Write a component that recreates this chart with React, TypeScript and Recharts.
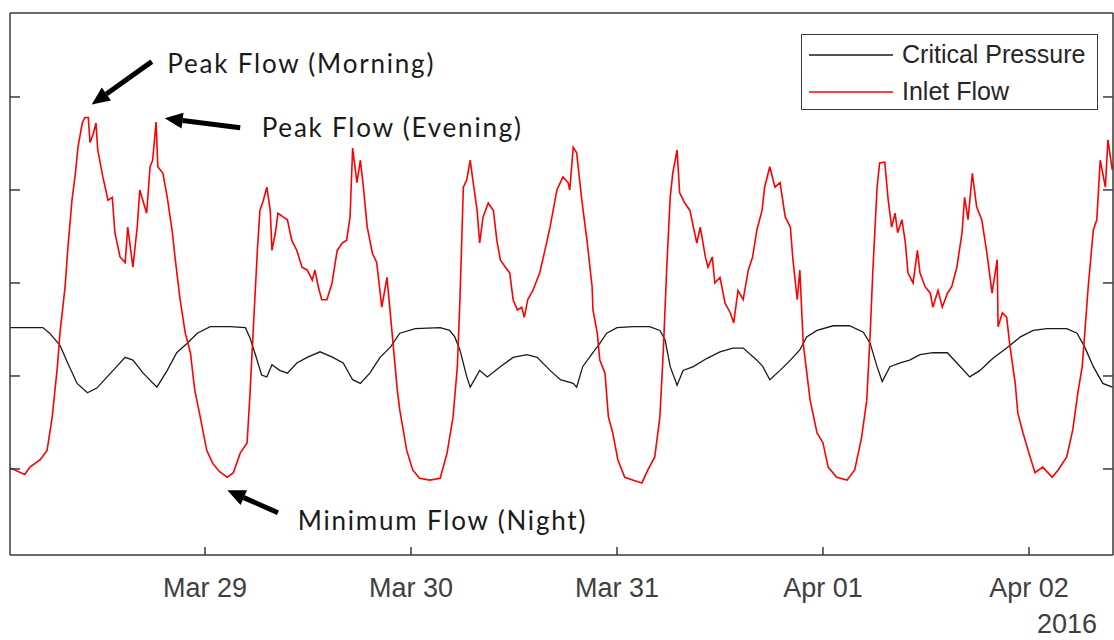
import { LineChart, Line, XAxis, YAxis, Legend, ReferenceLine, ReferenceDot } from "recharts"

// hours counted from 2016-03-29 00:00
const dayTicks = [0, 24, 48, 72, 96]
const dayLabels = ["Mar 29", "Mar 30", "Mar 31", "Apr 01", "Apr 02"]
const levelTicks = [1, 2, 3, 4, 5]

const flowHours = [
  -22.7, -21.0, -20.4, -19.2, -18.4, -17.8, -17.2, -16.9, -16.3, -16.0, -15.5, -15.1, -14.8, -14.3, -14.0, -13.6,
  -13.4, -13.0, -12.7, -12.5, -11.9, -11.3, -10.8, -10.5, -9.9, -9.3, -9.0, -8.4, -7.9, -7.6, -6.8, -6.4, -6.1,
  -5.7, -5.5, -4.9, -4.4, -3.8, -3.5, -2.9, -2.3, -1.7, -1.2, -0.6, 0.2, 0.9, 1.7, 2.6, 3.3, 4.1, 4.9, 5.2, 5.6,
  6.1, 6.4, 6.8, 7.2, 7.6, 7.8, 8.2, 8.5, 9.1, 9.6, 10.1, 10.7, 11.3, 11.9, 12.5, 12.8, 13.2, 13.6, 14.2, 14.8,
  15.4, 16.0, 16.5, 16.9, 17.2, 17.7, 18.1, 18.4, 18.9, 19.5, 20.0, 20.6, 21.2, 21.8, 22.4, 22.7, 23.5, 24.2,
  25.0, 26.2, 27.4, 28.2, 28.9, 29.4, 29.7, 30.1, 30.5, 30.9, 31.2, 31.7, 32.0, 32.4, 33.0, 33.6, 34.0, 34.4,
  35.0, 35.5, 35.9, 36.4, 36.9, 37.2, 37.6, 38.2, 39.0, 39.6, 40.2, 41.0, 41.7, 42.3, 42.5, 42.9, 43.3, 43.9,
  44.5, 45.1, 45.2, 45.7, 46.0, 46.6, 47.0, 47.5, 48.1, 48.9, 49.9, 50.9, 51.6, 52.4, 53.0, 53.4, 53.8, 54.2,
  54.5, 55.0, 55.3, 55.9, 56.5, 56.9, 57.3, 57.7, 58.3, 58.6, 59.1, 59.4, 60.0, 60.6, 61.2, 61.6, 62.1, 62.7,
  63.3, 63.8, 64.3, 64.9, 65.2, 65.8, 66.4, 67.0, 67.6, 68.2, 68.5, 69.0, 69.3, 69.7, 70.5, 71.3, 72.0, 72.6,
  73.6, 74.8, 75.7, 76.5, 77.1, 77.5, 77.8, 78.3, 78.6, 79.2, 79.6, 80.0, 80.4, 80.7, 81.2, 81.6, 81.9, 82.5,
  83.0, 83.3, 83.9, 84.5, 84.8, 85.4, 85.9, 86.5, 87.0, 87.6, 88.2, 88.5, 88.9, 89.4, 89.9, 90.5, 91.1, 91.7,
  92.3, 92.4, 92.9, 93.4, 93.8, 94.4, 94.7, 95.3, 95.9, 96.7, 97.6, 98.7, 99.4, 100.4, 101.1, 101.7, 102.2,
  102.5, 102.9, 103.5, 103.9, 104.3, 104.9, 105.2, 105.7, 106.1,
]
const flowValues = [
  1.01, 0.94, 1.02, 1.1, 1.2, 1.56, 2.1, 2.46, 2.96, 3.35, 3.89, 4.18, 4.46, 4.72, 4.78, 4.78,
  4.51, 4.61, 4.72, 4.43, 4.14, 3.89, 3.92, 3.54, 3.28, 3.22, 3.6, 3.17, 3.6, 4.0, 3.75, 4.25, 4.32,
  4.73, 4.25, 4.18, 3.92, 3.54, 3.28, 2.82, 2.46, 2.25, 1.85, 1.58, 1.2, 1.06, 0.97, 0.91, 0.96, 1.17, 1.28, 1.74, 2.46,
  3.35, 3.78, 3.89, 4.03, 3.78, 3.35, 3.54, 3.75, 3.71, 3.68, 3.46, 3.35, 3.17, 3.14, 3.03, 3.14, 2.96, 2.82, 2.82, 3.0,
  3.35, 3.43, 3.46, 3.71, 4.45, 4.08, 4.32, 4.08, 3.6, 3.32, 3.22, 2.74, 3.06, 2.46, 1.85, 1.63, 1.2, 0.99,
  0.9, 0.88, 0.9, 1.17, 1.56, 2.1, 2.82, 4.03, 4.11, 4.32, 4.11, 3.78, 3.43, 3.71, 3.86, 3.78, 3.46, 3.25,
  3.17, 3.11, 2.82, 2.71, 2.74, 2.63, 2.82, 2.92, 3.11, 3.35, 3.6, 4.0, 4.14, 4.08, 4.0, 4.46, 4.4, 3.89,
  3.46, 2.96, 2.71, 2.46, 2.17, 2.03, 1.56, 1.39, 1.1, 0.91, 0.88, 0.85, 0.99, 1.13, 1.56, 2.28, 3.17, 3.92,
  4.18, 4.43, 3.97, 3.86, 3.78, 3.6, 3.43, 3.6, 3.28, 3.17, 3.28, 3.0, 3.06, 2.78, 2.68, 2.57, 2.92, 2.82,
  3.14, 3.28, 3.57, 3.78, 4.03, 4.25, 4.03, 4.08, 3.71, 3.6, 3.25, 2.82, 3.14, 2.35, 1.74, 1.39, 1.28, 1.02,
  0.91, 0.88, 0.99, 1.34, 1.74, 2.46, 3.11, 4.03, 4.29, 4.3, 3.89, 3.6, 3.75, 3.54, 3.68, 3.43, 3.11, 3.0,
  3.35, 3.11, 2.96, 2.89, 2.74, 2.92, 2.74, 2.89, 2.96, 3.17, 3.54, 3.92, 3.68, 4.18, 3.82, 3.68, 3.32, 2.89,
  3.25, 2.53, 2.68, 2.63, 2.31, 1.92, 1.6, 1.39, 1.2, 0.96, 1.02, 0.91, 0.99, 1.13, 1.42, 1.82, 2.1,
  2.46, 2.96, 3.57, 3.68, 4.32, 4.03, 4.54, 4.22, 4.4,
]

const pressureHours = [
  -22.7, -18.9, -18.1, -16.9, -16.0, -14.9, -13.7, -12.6, -11.4, -10.3, -9.3, -8.4, -7.2, -5.6, -4.4, -3.3, -2.1,
  -0.9, 0.6, 2.9, 4.7, 5.2, 5.8, 6.6, 7.2, 7.8, 8.7, 9.6, 10.7, 11.9, 13.4, 14.9, 16.1, 17.2, 18.1, 19.2, 20.4,
  21.6, 22.7, 24.5, 27.4, 28.5, 29.1, 29.7, 30.5, 30.9, 32.0, 32.9, 34.4, 35.9, 37.5, 38.7, 40.2, 41.4, 42.9,
  43.3, 44.0, 45.2, 46.0, 46.8, 48.0, 49.9, 51.8, 53.0, 53.6, 54.2, 55.0, 55.7, 56.9, 58.5, 60.0, 61.5, 62.7,
  64.3, 65.0, 65.8, 67.0, 68.2, 69.3, 70.1, 71.3, 73.2, 75.1, 76.7, 77.5, 78.3, 78.9, 79.8, 81.0, 82.1, 83.3,
  84.8, 86.5, 87.6, 89.1, 90.3, 91.8, 93.4, 95.0, 96.5, 98.1, 100.4, 101.6, 102.5, 103.5, 104.6, 105.7, 106.1,
]
const pressureValues = [
  2.52, 2.52, 2.46, 2.33, 2.14, 1.92, 1.82, 1.87, 1.99, 2.1, 2.2, 2.17, 2.03, 1.88, 2.06, 2.25, 2.35,
  2.46, 2.53, 2.53, 2.52, 2.42, 2.25, 2.01, 1.99, 2.12, 2.06, 2.03, 2.14, 2.2, 2.26, 2.2, 2.14, 1.96, 1.92, 2.03, 2.2,
  2.31, 2.46, 2.51, 2.52, 2.49, 2.42, 2.28, 1.99, 1.88, 2.06, 1.99, 2.1, 2.2, 2.23, 2.2, 2.06, 1.96, 1.92,
  1.88, 2.1, 2.25, 2.35, 2.46, 2.52, 2.53, 2.53, 2.49, 2.39, 2.1, 1.9, 2.06, 2.1, 2.19, 2.26, 2.3, 2.3,
  2.17, 2.1, 1.96, 2.06, 2.17, 2.28, 2.42, 2.49, 2.54, 2.54, 2.47, 2.35, 2.1, 1.94, 2.1, 2.14, 2.17, 2.23,
  2.25, 2.25, 2.14, 1.99, 2.06, 2.19, 2.3, 2.42, 2.49, 2.51, 2.51, 2.46, 2.31, 2.1, 1.92, 1.88, 1.87,
]

const seriesNames = ["Critical Pressure", "Inlet Flow"]
const seriesColors = ["#1a1a1a", "#ff0000"]

const noteTexts = ["Peak Flow (Morning)", "Peak Flow (Evening)", "Minimum Flow (Night)"]
const noteAt = [[-4.4, 5.36], [6.6, 4.68], [10.8, 0.45]]
const arrowTail = [[-6.2, 5.38], [4.1, 4.67], [8.5, 0.53]]
const arrowTip = [[-13.2, 4.92], [-4.7, 4.77], [2.6, 0.77]]

const axisColor = "#3a3a3a"
const tickFont = "'Liberation Sans', Arial, sans-serif"
const noLabel = () => ""

function Arrow(p: any) {
  const { x1, y1, x2, y2 } = p
  const dx = x2 - x1
  const dy = y2 - y1
  const len = Math.hypot(dx, dy)
  const ux = dx / len
  const uy = dy / len
  const head = 18
  const half = 8
  const bx = x2 - ux * head
  const by = y2 - uy * head
  return (
    <g>
      <line x1={x1} y1={y1} x2={bx} y2={by} stroke="#000" strokeWidth={5} />
      <polygon
        points={`${x2},${y2} ${bx - uy * half},${by + ux * half} ${bx + uy * half},${by - ux * half}`}
        fill="#000"
      />
    </g>
  )
}

function LegendBox() {
  return (
    <div
      style={{
        width: 297,
        height: 76,
        boxSizing: "border-box",
        border: `1.5px solid ${axisColor}`,
        background: "#fff",
        fontFamily: tickFont,
        fontSize: 25,
        color: "#262626",
        paddingTop: 1,
      }}
    >
      {seriesNames.map((name, i) => (
        <div key={name} style={{ display: "flex", alignItems: "center", height: 37 }}>
          <svg width={100} height={6} style={{ flex: "none" }}>
            <line x1={7} x2={91} y1={3} y2={3} stroke={seriesColors[i]} strokeWidth={1.6} />
          </svg>
          <span>{name}</span>
        </div>
      ))}
    </div>
  )
}

export default function App() {
  const flow = flowHours.map((h, i) => ({ h, v: flowValues[i] }))
  const pressure = pressureHours.map((h, i) => ({ h, v: pressureValues[i] }))
  const xDomain: [number, number] = [-22.72, 105.79]
  const yDomain: [number, number] = [0.075, 5.903]
  const frame = { stroke: axisColor, strokeWidth: 1.5 }

  return (
    <div style={{ position: "absolute", left: 0, top: 0, width: 1114, height: 640, background: "#fff" }}>
      <LineChart width={1114} height={640} margin={{ top: 12, right: 0, bottom: 0, left: 9 }}>
        <XAxis
          dataKey="h"
          type="number"
          domain={xDomain}
          allowDataOverflow
          ticks={dayTicks}
          interval={0}
          tickFormatter={(h) => dayLabels[dayTicks.indexOf(h)] ?? ""}
          height={85}
          tickSize={-8}
          tickMargin={31}
          axisLine={frame}
          tickLine={frame}
          tick={{ fill: "#404040", fontSize: 27, fontFamily: tickFont }}
          label={{
            content: (props: any) => (
              <text
                x={props.viewBox.x + props.viewBox.width - 16}
                y={props.viewBox.y + props.viewBox.height - 7}
                textAnchor="end"
                fill="#404040"
                fontSize={27}
                fontFamily={tickFont}
              >
                2016
              </text>
            ),
          }}
        />
        <XAxis
          xAxisId="top"
          orientation="top"
          type="number"
          domain={xDomain}
          allowDataOverflow
          ticks={dayTicks}
          interval={0}
          height={1}
          tickSize={-9}
          tickFormatter={noLabel}
          axisLine={frame}
          tickLine={frame}
        />
        <YAxis
          type="number"
          domain={yDomain}
          allowDataOverflow
          ticks={levelTicks}
          interval={0}
          width={1}
          tickSize={-10}
          tickFormatter={noLabel}
          axisLine={frame}
          tickLine={frame}
        />
        <YAxis
          yAxisId="right"
          orientation="right"
          type="number"
          domain={yDomain}
          allowDataOverflow
          ticks={levelTicks}
          interval={0}
          width={1}
          tickSize={-10}
          tickFormatter={noLabel}
          axisLine={frame}
          tickLine={frame}
        />
        <Legend
          content={() => <LegendBox />}
          layout="horizontal"
          align="center"
          verticalAlign="middle"
          wrapperStyle={{ left: 801, top: 34, width: 297, height: 76 }}
        />
        <Line
          data={pressure}
          dataKey="v"
          name={seriesNames[0]}
          stroke={seriesColors[0]}
          strokeWidth={1.3}
          dot={false}
          type="linear"
          isAnimationActive={false}
        />
        <Line
          data={flow}
          dataKey="v"
          name={seriesNames[1]}
          stroke={seriesColors[1]}
          strokeWidth={1.6}
          dot={false}
          type="linear"
          isAnimationActive={false}
        />
        {noteTexts.map((t, i) => (
          <ReferenceLine
            key={`arrow-${t}`}
            segment={[
              { x: arrowTail[i][0], y: arrowTail[i][1] },
              { x: arrowTip[i][0], y: arrowTip[i][1] },
            ]}
            shape={Arrow}
          />
        ))}
        {noteTexts.map((t, i) => (
          <ReferenceDot
            key={`note-${t}`}
            x={noteAt[i][0]}
            y={noteAt[i][1]}
            shape={(p: any) => (
              <text
                x={p.cx}
                y={p.cy}
                dominantBaseline="central"
                fill="#1a1a1a"
                fontSize={26}
                letterSpacing={1.8}
                fontFamily="Lato, 'Open Sans', sans-serif"
              >
                {t}
              </text>
            )}
          />
        ))}
      </LineChart>
    </div>
  )
}
